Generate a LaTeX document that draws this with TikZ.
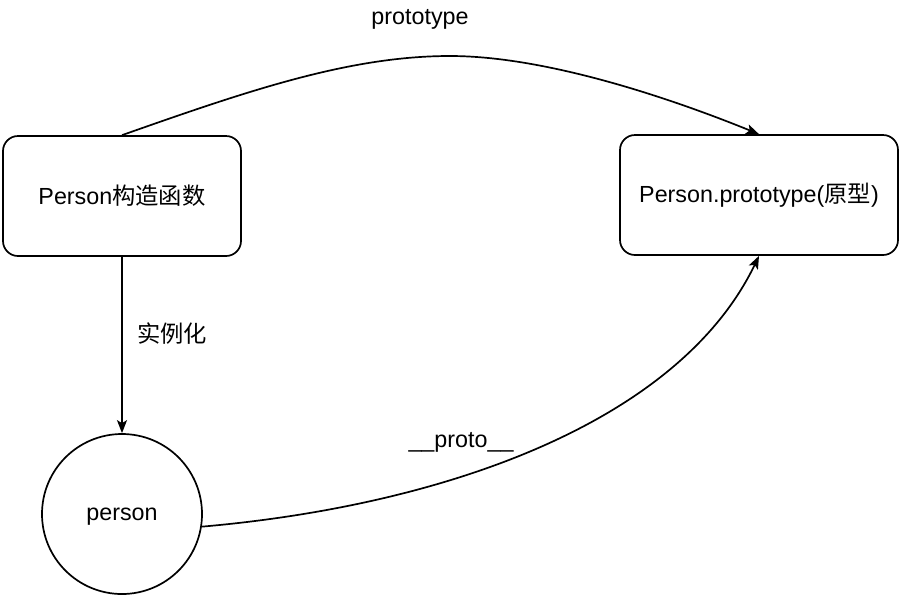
\documentclass[tikz,border=0pt]{standalone}
\usepackage{fontspec}
\setmainfont{Liberation Sans}
\newfontfamily\cjk{Noto Sans CJK SC}
\usetikzlibrary{arrows.meta}
\begin{document}
\begin{tikzpicture}[x=1pt,y=-1pt,
  font=\fontsize{23.3}{28}\selectfont,
  line width=1.7pt,
  arr/.style={-{Stealth[length=13pt,width=10pt,inset=3pt]}},
  box/.style={draw, rounded corners=15pt, minimum height=120pt, inner sep=0pt},
  ellnode/.style={draw, circle, minimum size=160pt, inner sep=0pt, text depth=0pt},
  lbl/.style={inner sep=0pt}]
\useasboundingbox (0,0) rectangle (909,598);
\node[box, minimum width=238pt] (ctor) at (122,196) {Person{\cjk 构造函数}};
\node[box, minimum width=278pt] (proto) at (759,195) {Person.prototype({\cjk 原型})};
\node[ellnode] (inst) at (122,514) {person};
\node[lbl] (lproto) at (420,19) {prototype};
\node[lbl] (linst) at (172,334) {\cjk 实例化};
\node[lbl] (l__) at (461,442) {\_\_proto\_\_};
\draw[arr] (ctor.south) -- (inst.north);
\draw[arr] (ctor.north) .. controls (250,90) and (350,56) .. (450,56)
  .. controls (550,56) and (680,102) .. (proto.north);
\draw[arr] (inst.-9) .. controls (450,505) and (680,420) .. (proto.south);
\end{tikzpicture}
\end{document}
